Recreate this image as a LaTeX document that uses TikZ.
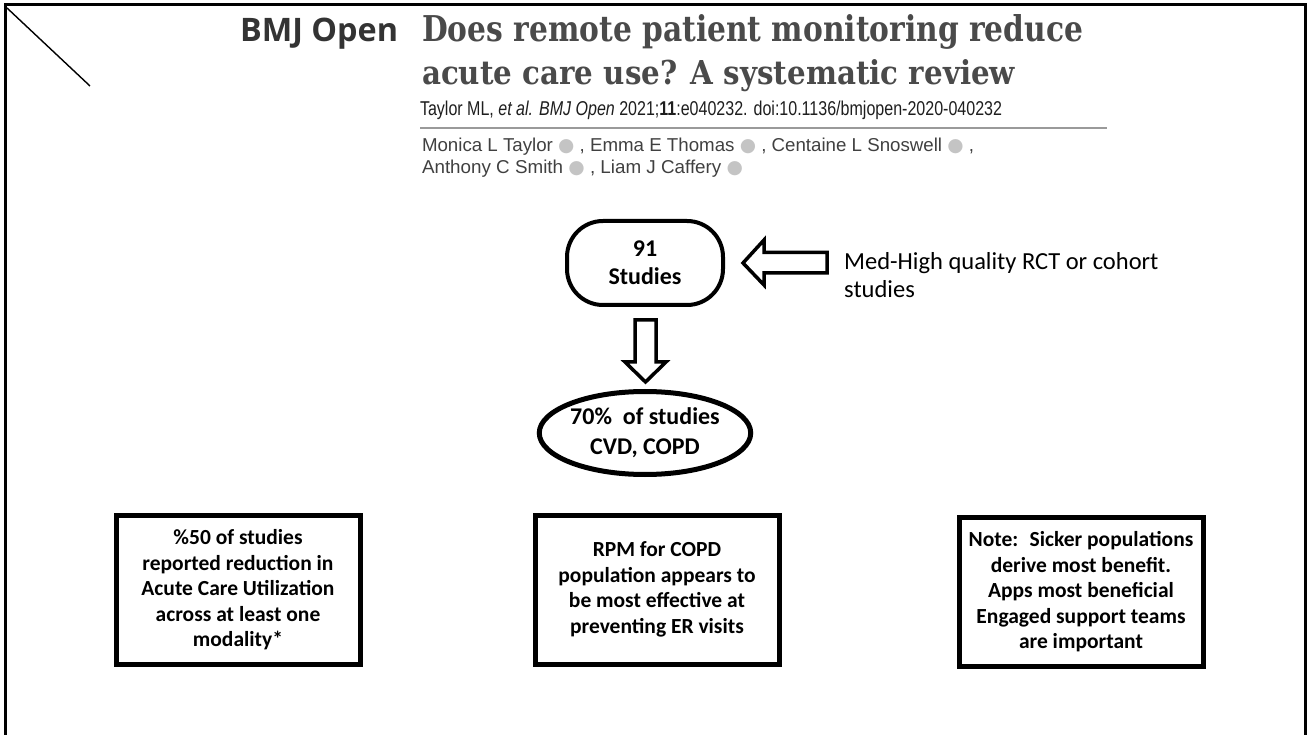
\documentclass[tikz,border=0pt]{standalone}
\usepackage{fontspec}
\usepackage{graphicx}
\setmainfont{Carlito}
\newfontfamily\titlefont{DejaVu Serif}
\newfontfamily\bmjfont{Open Sans}
\newfontfamily\arialfont{Liberation Sans}
\newfontfamily\symbfont{DejaVu Sans}
\usetikzlibrary{shapes.geometric}
\definecolor{titlegray}{HTML}{4A4A4A}
\definecolor{bmjgray}{HTML}{333333}
\definecolor{authgray}{HTML}{404040}
\definecolor{citegray}{HTML}{1E1E1E}
\definecolor{rulegray}{HTML}{9A9A9A}
\definecolor{orcidgray}{HTML}{C4C4C4}
\newcommand\orcidmark{{\symbfont\color{orcidgray}●}}
\tikzset{
  hdr/.style={anchor=base west, inner sep=0pt, outer sep=0pt},
  studiesbox/.style={draw, line width=4pt, rounded corners=36pt, minimum width=156pt, minimum height=84pt, align=center, font=\fontsize{24}{28}\selectfont\bfseries},
  pctell/.style={draw, ellipse, line width=5pt, minimum width=205pt, minimum height=83pt, inner sep=0pt, align=center, font=\fontsize{24}{30}\selectfont\bfseries},
  blockarrow/.style={draw, fill=white, line width=3.5pt, line join=miter},
  findbox/.style={draw, line width=5pt, minimum width=244pt, minimum height=149pt, align=center, font=\fontsize{21.5}{25.5}\selectfont\bfseries},
  sidetext/.style={anchor=base west, inner sep=0pt, font=\fontsize{24.5}{28}\selectfont}
}
\begin{document}
\begin{tikzpicture}[x=1pt,y=-1pt]
\useasboundingbox (0,0) rectangle (1310,735);
% frame
\draw[line width=3pt] (5,740) -- (5,5) -- (1305,5) -- (1305,740);
\draw[line width=1.4pt] (7,8) -- (90,86);
% header
\node[hdr, text=bmjgray] (bmj) at (240,42) {\resizebox{158pt}{!}{\bmjfont\bfseries BMJ Open}};
\node[hdr, text=titlegray] (t1) at (422,42) {\resizebox{661pt}{27pt}{\titlefont\bfseries Does remote patient monitoring reduce}};
\node[hdr, text=titlegray] (t2) at (422,85) {\resizebox{593pt}{25pt}{\titlefont\bfseries acute care use? A systematic review}};
\node[hdr, text=citegray] (cite) at (420,116) {\resizebox{582pt}{14.5pt}{\arialfont Taylor ML, \textit{et al. BMJ Open} 2021;\textbf{11}:e040232. doi:10.1136/bmjopen-2020-040232}};
\coordinate (r1) at (420,128);
\coordinate (r2) at (1107,128);
\draw[rulegray, line width=1.5pt] (r1) -- (r2);
\node[hdr, text=authgray] (a1) at (422,152) {\resizebox{552pt}{13.5pt}{\arialfont Monica L Taylor \orcidmark\ , Emma E Thomas \orcidmark\ , Centaine L Snoswell \orcidmark\ ,}};
\node[hdr, text=authgray] (a2) at (422,174) {\resizebox{321pt}{13.5pt}{\arialfont Anthony C Smith \orcidmark\ , Liam J Caffery \orcidmark}};
% flow
\node[studiesbox] (s91) at (645,263) {91\\Studies};
\draw[blockarrow] (743,263) -- (764,240) -- (764,252.5) -- (827,252.5) -- (827,273) -- (764,273) -- (764,285) -- cycle;
\node[sidetext] (qual1) at (844,270) {Med-High quality RCT or cohort};
\node[sidetext] (qual2) at (844,298) {studies};
\draw[blockarrow] (635,320) -- (656,320) -- (656,362) -- (666,362) -- (645.5,382) -- (625,362) -- (635,362) -- cycle;
\node[pctell] (p70) at (645,433) {70\%~ of studies\\CVD, COPD};
% findings
\node[findbox] (f1) at (238,590) {\%50 of studies\\reported reduction in\\Acute Care Utilization\\across at least one\\modality*};
\node[findbox] (f2) at (657,589.5) {RPM for COPD\\population appears to\\be most effective at\\preventing ER visits};
\node[findbox] (f3) at (1081,592) {Note:~ Sicker populations\\derive most benefit.\\Apps most beneficial\\Engaged support teams\\are important};
\end{tikzpicture}
\end{document}
